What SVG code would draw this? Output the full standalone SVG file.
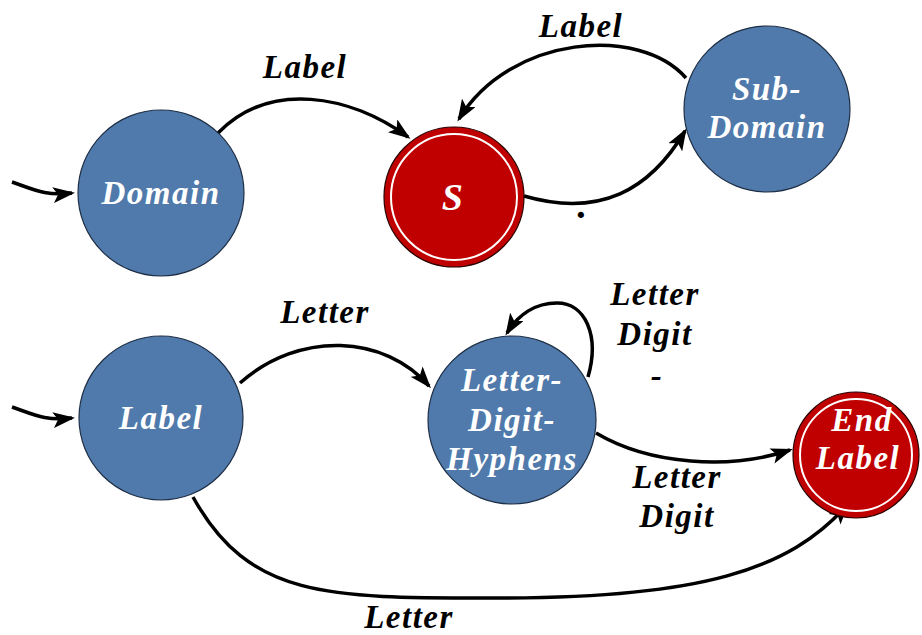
<svg xmlns="http://www.w3.org/2000/svg" width="922" height="635" viewBox="0 0 922 635">
<defs>
<marker id="ah" viewBox="0 0 22 16" refX="19" refY="8" markerWidth="22" markerHeight="16" markerUnits="userSpaceOnUse" orient="auto">
<path d="M0,0 L22,8 L0,16 L5,8 Z" fill="#000"/>
</marker>
<style>
.blue{fill:#4F7AAB;stroke:#1F2F45;stroke-width:1.2}
.red{fill:#C00000;stroke:#2a0000;stroke-width:1.2}
.inner{fill:none;stroke:#fff;stroke-width:2}
.nt{font-family:"Liberation Serif","DejaVu Serif",serif;font-style:italic;font-weight:bold;fill:#fff;font-size:33px;letter-spacing:1.5px;text-anchor:middle}
.et{font-family:"Liberation Serif","DejaVu Serif",serif;font-style:italic;font-weight:bold;fill:#000;font-size:33px;letter-spacing:1.5px;text-anchor:middle}
.edge{fill:none;stroke:#000;stroke-width:3.5;marker-end:url(#ah)}
</style>
</defs>
<g id="connectors">
<path class="edge" d="M12,182 C35,190 45,196 72,193"/>
<path class="edge" d="M218,133 C270,80 350,95 408,137"/>
<path class="edge" d="M686,78 C640,25 510,35 459,119"/>
<path class="edge" d="M524,196 C600,218 650,190 685,131"/>
<path class="edge" d="M12,407 C35,415 45,421 72,418"/>
<path class="edge" d="M240,383 C300,330 385,335 429,386"/>
<path class="edge" d="M588,377 C600,335 585,303 557,303 C535,303 518,315 507,333"/>
<path class="edge" d="M596,433 C650,465 730,470 790,450"/>
<path class="edge" d="M193,497 C250,600 330,598 500,598 C700,598 790,570 847,505"/>
</g>
<g id="edge-labels">
<text class="et" x="305" y="78">Label</text>
<text class="et" x="581" y="37">Label</text>
<text class="et" x="583" y="218" style="font-size:38px">.</text>
<text class="et" x="325" y="323">Letter</text>
<text class="et" x="655" y="305">Letter</text>
<text class="et" x="655" y="345">Digit</text>
<text class="et" x="657" y="387">-</text>
<text class="et" x="677" y="488">Letter</text>
<text class="et" x="677" y="527">Digit</text>
<text class="et" x="409" y="628">Letter</text>
</g>
<g id="domain">
<circle class="blue" cx="161" cy="193" r="83"/>
<text class="nt" x="161" y="204">Domain</text>
</g>
<g id="s">
<circle class="red" cx="454" cy="197" r="70"/>
<circle class="inner" cx="454" cy="197" r="63"/>
<text class="nt" x="453" y="210" style="font-size:38px">S</text>
</g>
<g id="subdomain">
<circle class="blue" cx="767" cy="109" r="83"/>
<text class="nt" x="767" y="100">Sub-</text>
<text class="nt" x="767" y="138">Domain</text>
</g>
<g id="label">
<circle class="blue" cx="161" cy="418" r="82"/>
<text class="nt" x="161" y="429">Label</text>
</g>
<g id="letter-digit-hyphens">
<circle class="blue" cx="512" cy="420" r="84"/>
<text class="nt" x="512" y="391">Letter-</text>
<text class="nt" x="512" y="431">Digit-</text>
<text class="nt" x="512" y="470">Hyphens</text>
</g>
<g id="end-label">
<circle class="red" cx="856" cy="455" r="63"/>
<circle class="inner" cx="856" cy="455" r="56"/>
<text class="nt" x="862" y="431">End</text>
<text class="nt" x="858" y="469">Label</text>
</g>
</svg>
